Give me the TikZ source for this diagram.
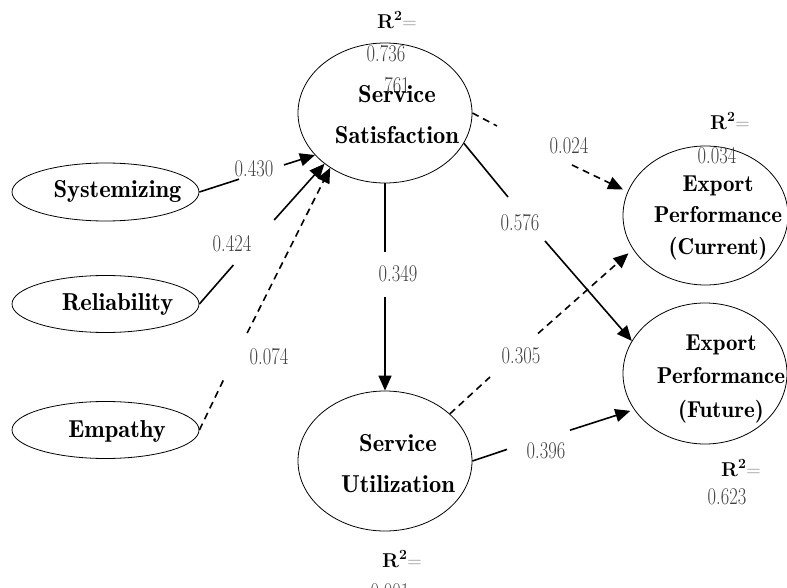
\documentclass[tikz,border=0pt]{standalone}
\usepackage{fontspec}
\usepackage{graphicx}
\usetikzlibrary{shapes.geometric,arrows.meta}
\newfontfamily\demifont{lmromandemi10-regular.otf}
\newcommand\nm[1]{\scalebox{0.77}[1]{#1}}
\newcommand\rsq{\textbf{R\textsuperscript{2}}\textcolor{black!45}{=}}
\begin{document}
\begin{tikzpicture}[x=1pt,y=-1pt,
  ent/.style={draw, ellipse, line width=0.8pt, inner sep=0pt},
  ctxt/.style={font=\demifont\fontsize{24.5}{41}\selectfont, align=center, inner sep=0pt},
  rtxt/.style={align=center, inner sep=0pt},
  num/.style={font=\fontsize{24}{24}\selectfont, text=black!75, inner sep=0pt},
  rs/.style={font=\fontsize{20}{20}\selectfont, inner sep=0pt},
  conn/.style={line width=1.6pt},
  dconn/.style={conn, dash pattern=on 7pt off 5pt},
  tip/.style={-{Triangle[length=15pt,width=13pt]}}
]
\useasboundingbox (0,0) rectangle (787,588);

% ellipses
\node[ent, minimum width=187pt, minimum height=58pt] (sys) at (105.5,192) {};
\node[ent, minimum width=187pt, minimum height=57pt] (rel) at (105.5,304) {};
\node[ent, minimum width=187pt, minimum height=57pt] (emp) at (105.5,430) {};
\node[ent, minimum width=174pt, minimum height=140pt] (sat) at (385,113) {};
\node[ent, minimum width=174pt, minimum height=140pt] (util) at (385,461) {};
\node[ent, minimum width=165pt, minimum height=139pt] (cur) at (705.5,215.5) {};
\node[ent, minimum width=164pt, minimum height=141pt] (fut) at (705,373.5) {};

% R^2 labels and values (drawn first, behind texts)
\node[num] (v761) at (397,86) {\nm{761}};
\node[rs] (r1) at (397,20) {\rsq};
\node[num] (v1) at (386,54) {\nm{0.736}};
\node[rs] (r2) at (730,121) {\rsq};
\node[num] (v2) at (717,156) {\nm{0.034}};
\node[rs] (r3) at (741,468) {\rsq};
\node[num] (v3) at (727,497) {\nm{0.623}};
\node[rs] (r4) at (402,559) {\rsq};
\node[num] (v4) at (390,592) {\nm{0.001}};

% ellipse texts
\node[ctxt] (sys-t) at (117.5,191) {Systemizing};
\node[ctxt] (rel-t) at (117.5,304) {Reliability};
\node[ctxt] (emp-t) at (117,431) {Empathy};
\node[ctxt] (sat-t) at (397,115) {Service\\Satisfaction};
\node[ctxt] (util-t) at (398,464) {Service\\Utilization};
\node[rtxt, font=\demifont\fontsize{23}{31.5}\selectfont] (cur-t) at (718,218) {Export\\Performance\\(Current)};
\node[rtxt, font=\demifont\fontsize{23}{33.5}\selectfont] (fut-t) at (721,379) {Export\\Performance\\(Future)};

% path coefficients
\node[num] (l1) at (254,169) {\nm{0.430}};
\node[num] (l2) at (232,244) {\nm{0.424}};
\node[num] (l3) at (269,357) {\nm{0.074}};
\node[num] (l4) at (398,274) {\nm{0.349}};
\node[num] (l5) at (569,146) {\nm{0.024}};
\node[num] (l6) at (520,223) {\nm{0.576}};
\node[num] (l7) at (521,356) {\nm{0.305}};
\node[num] (l8) at (546,451) {\nm{0.396}};

% gap coordinates
\coordinate (a1) at (239,179.2);   \coordinate (a2) at (284,164.9);
\coordinate (b1) at (233.4,265);   \coordinate (b2) at (274.2,220);
\coordinate (c1) at (224.9,377);   \coordinate (c2) at (247.2,333);
\coordinate (d1) at (385,252);     \coordinate (d2) at (385,297);
\coordinate (e1) at (497,126);     \coordinate (e2) at (572,165);
\coordinate (f1) at (508,197);     \coordinate (f2) at (545,241);
\coordinate (g1) at (490,377);     \coordinate (g2) at (538,333.5);
\coordinate (h1) at (507,449.4);   \coordinate (h2) at (570,430.2);

% connectors
\draw[conn] (sys.east) -- (a1);
\draw[conn,tip] (a2) -- (sat.211);
\draw[conn] (rel.east) -- (b1);
\draw[conn,tip] (b2) -- (sat.220);
\draw[dconn] (emp.east) -- (c1);
\draw[dconn,tip] (c2) -- (sat.225);
\draw[conn] (sat.south) -- (d1);
\draw[conn,tip] (d2) -- (util.north);
\draw[dconn] (sat.east) -- (e1);
\draw[dconn,tip,shorten >=5pt] (e2) -- (cur.163);
\draw[conn] (sat.339) -- (f1);
\draw[conn,tip] (f2) -- (fut.156);
\draw[dconn] (util.36) -- (g1);
\draw[dconn,tip,shorten >=6pt] (g2) -- (cur.205);
\draw[conn] (util.east) -- (h1);
\draw[conn,tip,shorten >=4pt] (h2) -- (fut.207);
\end{tikzpicture}
\end{document}
